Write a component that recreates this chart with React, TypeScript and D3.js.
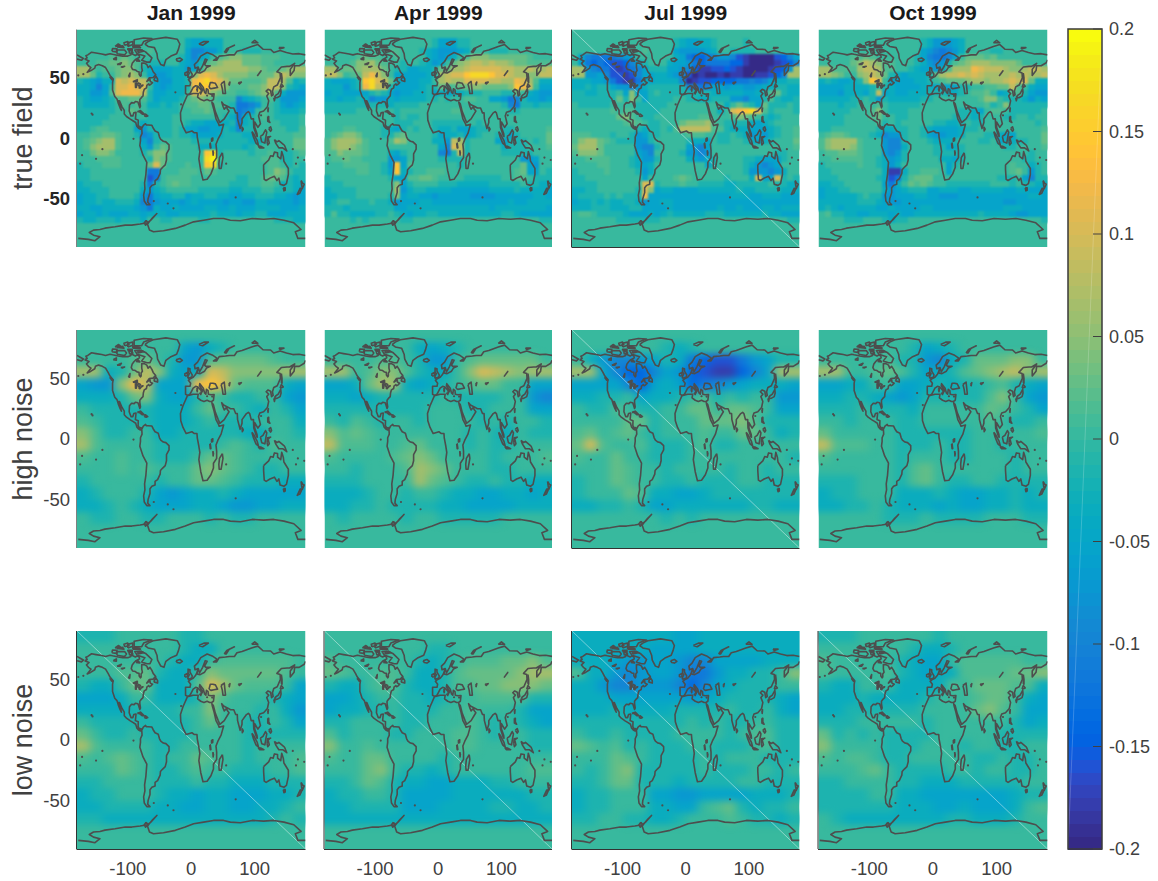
import React from 'react'
import * as d3 from 'd3'

const months = ['Jan 1999', 'Apr 1999', 'Jul 1999', 'Oct 1999']
const rowNames = ['true field', 'high noise', 'low noise']
const xTicks = [-100, 0, 100]
const yTicks = [50, 0, -50]
const barTicks = [0.2, 0.15, 0.1, 0.05, 0, -0.05, -0.1, -0.15, -0.2]

// one letter per cell, k is zero
const levels = 'abcdefghijklmnopqrstu'
const levelValues = [-0.2, -0.18, -0.16, -0.14, -0.115, -0.095, -0.075, -0.052, -0.035, -0.018, 0, 0.015, 0.03, 0.047, 0.065, 0.082, 0.1, 0.12, 0.14, 0.165, 0.19]

// matlab parula, 64 levels
const parula = [
  [0.2081, 0.1663, 0.5292], [0.2116, 0.1898, 0.5777], [0.2123, 0.2138, 0.627], [0.2081, 0.2386, 0.6771],
  [0.1959, 0.2645, 0.7279], [0.1707, 0.2919, 0.7792], [0.1253, 0.3242, 0.8303], [0.0591, 0.3598, 0.8683],
  [0.0117, 0.3875, 0.882], [0.006, 0.4086, 0.8828], [0.0165, 0.4266, 0.8786], [0.0329, 0.443, 0.872],
  [0.0498, 0.4586, 0.8641], [0.0629, 0.4737, 0.8554], [0.0723, 0.4887, 0.8467], [0.0779, 0.504, 0.8384],
  [0.0793, 0.52, 0.8312], [0.0749, 0.5375, 0.8263], [0.0641, 0.557, 0.824], [0.0488, 0.5772, 0.8228],
  [0.0343, 0.5966, 0.8199], [0.0265, 0.6137, 0.8135], [0.0239, 0.6287, 0.8038], [0.0231, 0.6418, 0.7913],
  [0.0228, 0.6535, 0.7768], [0.0267, 0.6642, 0.7607], [0.0384, 0.6743, 0.7436], [0.059, 0.6838, 0.7254],
  [0.0843, 0.6928, 0.7062], [0.1133, 0.7015, 0.6859], [0.1453, 0.7098, 0.6646], [0.1801, 0.7177, 0.6424],
  [0.2178, 0.725, 0.6193], [0.2586, 0.7317, 0.5954], [0.3022, 0.7376, 0.5712], [0.3482, 0.7424, 0.5473],
  [0.3953, 0.7459, 0.5244], [0.442, 0.7481, 0.5033], [0.4871, 0.7491, 0.484], [0.53, 0.7491, 0.4661],
  [0.5709, 0.7485, 0.4494], [0.6099, 0.7473, 0.4337], [0.6473, 0.7456, 0.4188], [0.6834, 0.7435, 0.4044],
  [0.7184, 0.7411, 0.3905], [0.7525, 0.7384, 0.3768], [0.7858, 0.7356, 0.3633], [0.8185, 0.7327, 0.3498],
  [0.8507, 0.7299, 0.336], [0.8824, 0.7274, 0.3217], [0.9139, 0.7258, 0.3063], [0.945, 0.7261, 0.2886],
  [0.9739, 0.7314, 0.2666], [0.9938, 0.7455, 0.2403], [0.999, 0.7653, 0.2164], [0.9955, 0.7861, 0.1967],
  [0.988, 0.8066, 0.1794], [0.9789, 0.8271, 0.1633], [0.9697, 0.8481, 0.1475], [0.9626, 0.8705, 0.1309],
  [0.9589, 0.8949, 0.1132], [0.9598, 0.9218, 0.0948], [0.9661, 0.9514, 0.0755], [0.9763, 0.9831, 0.0538],
].map(c => d3.rgb(c[0] * 255, c[1] * 255, c[2] * 255).formatHex())

// true field rows: lat 80 downward in 5 degree rows, 36 columns of 10 degrees from lon -180
const janTrue = [
  'kkkkkk kkkkkk kkkkki hhiiik kkkkkk kkkkkk',
  'kkkkkk kkkkkl kkkkkh ffggik kkjjjk kkkkkk',
  'kkkkkl lmlkkk kkkkjh fhiklm nnmmml llkkkk',
  'kkkllm mnmlkj jjkkih gjlmno oommml lkkkkk',
  'oolkll mnnlji hhhiig hknooo ooonnm llmnoo',
  'oomjkk mnonkh gghiij nqrqon nnnmmm moponn',
  'jihgii qpqppl hggiij rstrqo mmlllm ppolij',
  'iihfhk qqrqqk hghiij rtsqpn lllmmn ppnjih',
  'iigghl qrrrpj hhiiik qqpnml lkklmn oliggg',
  'jihhij llmmlj hiiijl mnmlkk kfhijk ljgggh',
  'jiiiij klklki ijijkl lmmllk jeefgk kjhghi',
  'jjjjjj kkmlkj jjjjkk llmlkk jefgkl kjiiij',
  'jjjjjk kkkkkj jjjkkk kkkkkj ieijkl kjjjjk',
  'jjjjkk kkkjij jjjkkj iihhii jeijkk kkjjjk',
  'jjkllk kkkhgj jjjkjh hgghhj ifjjkk kkkjjl',
  'kkllmm lkkjfg jjjkjj hhhhij jjiikk kkkkll',
  'klmnoo lkkkhf jkkkkk jjjjjj jjjiij kkkkmm',
  'klnooo lkkkig kmlkkk kiiijj jjijkk kkkkmm',
  'kkmnnm kkkkjl nnlkkk kkstjk kkkjkk lkjjkl',
  'kkklll lkkkkj nmlkkk kktukk kkkkkl lljjkk',
  'jkkkll lkkkkm qmkkkl kkstjk kkkkkk llkjkj',
  'jjkkkk kkkkke ekkkll lkmlkk kkkkkk lnmkjj',
  'jjkkkk kkkkkc ekllll kkkkkk kjjkkl mmljij',
  'ijjjkk kkkkje jklmll kkkkkk jjjkkl lkijii',
  'iijjjk kkkkig ijkkkk kjjjjj iijjjk kjjjih',
  'hiijjk kkkjge hiijjh iijjii hhiijj jiihgh',
  'hiijii jjjife ghhhgh ihhhhg hhggii hhhhgh',
  'iihhii iiihge ihhihh hhiihh ihhhii iihhhi',
  'hiihih hhiihi iihhii iiijii ihiijj hhhiii',
  'jiijjj ijjjik kjjkkk kjjkkk kkkkkk kjjjii',
]
const aprTrue = [
  'kkkkkk kkkkkk kkkkkj hhhjjk kkkkkk kkkkkk',
  'kkkkkk kkkkll kkkjih ggghik kkjjjk kkkkkk',
  'kkkkkl mllkkl kkkkih ghikln nnmmmm mmlkkk',
  'kkkkln nomlkk jkkjig hkmnop popoon mmllll',
  'oolmmn ooomkj jhhiij mmoopq qqqqpp oopoop',
  'ppnklm prpnkh hhhhij opqqst ttsqqp oonnpp',
  'ihhhij stqpmi hhhiik opooqq qqppoo rqolii',
  'iiigij rtppjh hhhijj mklmmn nmmmmn srpkhh',
  'hiihhh hjkjhg hhiijh ihiijj jkkkjj mkihgg',
  'iihiij ifggih iiiijj kjkkll kkhhge fjhhgh',
  'jjjjjj jjjjij jjjkkk kkkkkk kkkkjf ejjijj',
  'jjjjjk kkkkkj kkkkkk kkllkk kkkkkj jkkkkk',
  'kkkkkk kkkkkj kjjkkk kkkkkk kkkkkk kkkkkk',
  'kkkkkk kkkkkj jjkkkj jjjjkk jkkkkk kkkkkk',
  'kkkllk kkkjih jkjkkj iijhhi jjkkjj kkkkkl',
  'klmnnm kkkjjl mkkkkj hiijhi jkkjjh jkkkkm',
  'lnooon lkkklo nkkkki igpojk kkkhhj jjkjkm',
  'lnoonm lkkkkk kkkkkk hfqpjk kkkkij jjkkkl',
  'llnmmm lkkkih jkkkkk fejpjk kkkkjj jjjkkk',
  'kllmll kkkkgg hkkkkk jjjjkk kkkkkk kgghkk',
  'kkklll lkkjgs hlkkkk kkkjkk kkkkkk kmhgkk',
  'kkkkkl lkkjhs ijkkll lkkkkk kkkkkk lmhhkj',
  'jkkkkk kkkkjh hllmml kkkkjj jjjjkk llkjjj',
  'jjjkkk kkkkkn hjkkkk jjjiii iijjjj jkjjii',
  'ijjjjk kkkkko gijjii iihhhh hhiiii jiiiih',
  'iijjjk kkkkjn hiihhg hhhhhg ggghhh hhhiih',
  'ijkkjj jkjjig hhhiih hhhhhh hhhhhi hhiiii',
  'jjjijj jjjjjh hiiiii iiiiii iihiii iiiiih',
  'jljjii iijjkj ihiijj iiiiii iiiijj ihhhhh',
  'kkkkjk jkkkkk jjkkkk kkkkkk kkkkkk kkkkjj',
]
const julTrue = [
  'kkkkkk kkkkkk kkkkji hhiijk kkkjkk kkkkkk',
  'kkkkkk kkkkkl kkkkhg ggghik kjjjjk kkkkkk',
  'khfeee efghkk kkkkih eddefg gfcbaa aacdfh',
  'kheded ccdfhj kkkihh gedeee eddbaa aabcdf',
  'oogfee cbcefh jjjhhg fdbbcc dcbaaa abcdgo',
  'oogghf ccbcfh hiihgf cabaab abbaab bcdfoo',
  'iiihhg ecbbei hiiiif abccdd ddeefe fhiijj',
  'iijijj hggfgi jjjjjj ffefhh ghhggh iijjii',
  'jjiijj jkhnhh jkjjjj jjjjii iiihhi jlmjii',
  'jjjjjj jmjnkh jjjjkk jjiijj jggfhh jljiij',
  'kjjjjj kkkkjj jjjkkk kkkkkk ikmkjh mjjjkj',
  'kkkkkk lklljj jjkkkk kkkkki kqrstq ljkkkj',
  'kkkkkk kmnlkj jkkkkk kkllkk klnmlk jijkkk',
  'kkkkkk kklmlk jjkkkm nnnolk jjjjih ijkkkk',
  'kkkkkk kkkkji jjkjlp ppppll jiiihh hijkkl',
  'lllkkk jkkjgh jjkkkk lllkkj jkjigh gijkkl',
  'lnooml kjjjgg jkkkkk jiihkj jkkjih ijkkkm',
  'mooomk kkkkgf fjkkkk hgfhkk kkkkkk kkkkkl',
  'lnnnmk kkkkhg fkkkkj ggfgkk kkkkkk kkjjkk',
  'kkllll kkkjig gjkkkk ihgijk kkkjji hhhjkk',
  'kkkkll kkkjih ikkkkk kkkhjk kkkjig fghkkk',
  'jkkkkl kkkkjg ikkkkk kkkkkk kkkjgg gfgikk',
  'jjkkkk kkkkkh kkkklm lkkkkk jkkkiq hhqjkj',
  'jjjjkk kkkkkq qjkkkl kkjjjj iijjjj jkjjii',
  'iijjkk kkkkjq nhiihh hhiiii iijiij jjjiii',
  'ijjjjk jkjjjr hhhhhh hhhhhh hiiihh iiihhh',
  'hiijij iijjig hhiihh hhhhhh hhhhhh hhhhhh',
  'iiijjj iiijjh hhhihh hhhhhi hhihhh iihiii',
  'kllkjj jjihhh ihijii iiijjj iiiiii jiihhh',
  'kkkkkk kjjjjj jjkkkk kkkkkk kkkkkk kkkkjj',
]
const octTrue = [
  'kkkkkk kkkkkk kkkkji ggghik kkkkkk kkkkkk',
  'kkkkkk kkkkkk kkkkhg fefgik kkkjjk kkkkkk',
  'kkkkkl lmlkkk kkkjhf eefhkm mmlmkk kkkkkk',
  'kkkkkm nponll kkkjig fgjlmn ooonnn nmkkkk',
  'oollll oppoll kkjihh gilooo rqpppo nnoppo',
  'oonmkk nopomj ihiiij moppqp qpoooo popoop',
  'ijihhi jnsqkh hhhiij klmmmn oonoop qpqmii',
  'hhhhii iijkji hhhhii hhhhjj kkllmm plkihh',
  'hhhgii ihjphi hhiiij jjiijk llmkhi lljhgg',
  'iiiiij jkjgji iiiijj kkkkkk klnnkj jjigih',
  'jjjijj kkklkj jjjjkk kkkkkk kkljkn jjjjjj',
  'jjjjjk kklnkj jjkkkk kkkkjj ihkllk jjjjjk',
  'jjjjkk kklmkk jjkkkk kkkjjj ijkkkj jkkjkk',
  'jjjjkk kkkljk jkkkkk jjiijk jjkkkk kkkkjk',
  'jjkkkk kkkjii jjkkji hhhhij jkkkkk kkkkkl',
  'klmmlk kkjifg gjkkjh gghhik kkjjih hkkkkm',
  'lnoooo lkkkgf fjkkkj iiijkk kjjkhi ijjkkm',
  'lnooon lkkkgf fikkkk jjhijk kkkkkj jkkkkl',
  'kllmmm lkkkgf gjkkkk jjjjjk kkkkkk kkkjkk',
  'kkllll lkkjig hjkkkk kiihjk kkkkkk kkjjkk',
  'jkkkkk lkkjig ikkkkk kkhjkk kkkkkk lkkijk',
  'jjkkkk kkkkib bikkll lkhkkk kkkkkk lmkgjk',
  'jjjkkk kkkjic ejlmmm kkkkkk kkkkjj jkhfjj',
  'iijjkk kkkkhe ikmlml kkjjjj jjjkkk jkjjii',
  'hiijjk kkkkig hijjjh hiiihh iiiiih hiihhh',
  'hiiiii jkjjgg hhhiih hggghh hhhhhh hhhiih',
  'iiiiii jjjihg ghhhhh hhhhhh hhhhhg ghhhhh',
  'ijihii iiihhi hhhhii hhhhhh hhhhhi iihhhh',
  'kljjii hhiiih ihhiii iiiiii ijiiii hgghhh',
  'kkkkjj jkkkji jjkkkk kkkkkk kkkkkk kkkkkj',
]

// smooth rows: lat 90 downward in 10 degree rows, 18 columns of 20 degrees from lon -180
const janHigh = [
  'kkkkkk kkkkkk kkkkkk', 'kkkkkk kkhgij kkkkkk', 'kkkklm kjgglm mmmlkk', 'ooijmp nihiqp nnnnoo',
  'hggnrp hhhrsq mlllih', 'iiijmn ihhjlk jjkkhg', 'kjjjjj iiikmk kjikjh', 'lkjjjj iiijkj jjkkki',
  'nljjkk iijjjj jiikkj', 'olkkkk jjjjjk lkjlkk', 'lkklkk jjjkmm lkkkkk', 'kkklkl kkkmnm lkjjkk',
  'jkkkkk jkkmml kjjjii', 'ijkkkj hghiij ihhhhh', 'iijkji hhhiih gghhii', 'kjjkkj jkkkjk jjkkkk',
]
const aprHigh = [
  'kkkkkk kkkkkk kkkkkk', 'kkkkkk kihijk kkkkkk', 'kkkkll kjggkl mmmmmk', 'ooklnn ljiikn qponoo',
  'hhimoo ihijkl mmkkhh', 'iihijj jjjkjj jjkkgf', 'jjjjjj jjkkkj jkkkhh', 'kjlkjk kjkkkk jkjkkj',
  'nlmlkk kkkkkj kjikjj', 'plllkk lmkkkj kjjkkk', 'lkkkkl mnmkkk kjkkkl', 'kkjkkk lonmkk kjjkkk',
  'jjjkkk komlkj jkjjii', 'iiijkk jkkjii hhiihi', 'iijjkj jjjiih hhhiii', 'kjkkkk jkkjjj jjkkkk',
]
const julHigh = [
  'kkkkkk kkkkkk kkkkkk', 'kkkkkk kjijkk kkkkkk', 'kigffg hjiedc ceghjj', 'oohfdd fhgdcb bdfhoo',
  'hhhhfd hihdef ghiiih', 'iijjkh iijklj kjkkgg', 'kjjlkj jkkmmk mmlkhh', 'kkkkmm jkkkmm mnljjj',
  'lmklmk jkkklk kmmkij', 'mqlkkl jjjklj jkkkkk', 'lkkmkk jjjkkk kkkkkj', 'kkkmlk kjkkkk jkkjkk',
  'jkkmlk kjjkjj jkkjjj', 'jkkkml iihhij jjjjjj', 'iijjkj hhiiii iijjii', 'kkkkkk kjkjkk kkkkkk',
]
const octHigh = [
  'kkkkkk kkkkkk kkkkkk', 'kkkkkk kjhijk kkkkkk', 'kkkkkl jjgfij mmmnnk', 'ookklm ljhijl mnopno',
  'hhiikk hhijij jkljih', 'iijjih ghjjjj jlnkhg', 'jjjkjj jikkkk kmlkjh', 'kkjkkk jjkkkk klkjjk',
  'mkkkkk jjjjjj kkkkkl', 'plllkk jjjkjj kkjkkk', 'lkkkkk jkkkjj kkkjkk', 'kkkkkk jlmkkk kkkjkk',
  'jjjkkk jlmkjj kkjjjj', 'ijjkkk iiijih hiijij', 'iijjkj iiihih hiijii', 'kkkkkj jjkjjj jkkkjj',
]
const janLow = [
  'jjjkkk kkjjkk kkkkkk', 'kkkkkk kkjiik kkkkkk', 'kkkkkk kjiikl lllllk', 'kkkllm jiiknm mmmmlk',
  'jiikmm iiilqo mlllkh', 'hhhikk iiijnl kkkjih', 'iiiijj jjkknk kkjkig', 'kjjjjj jjjkmk kjjkjh',
  'mkjjkj jjjkkk kjjjjj', 'olkkkk jjkkkk kjkkkk', 'lklmlk jkkmlk kjkkkl', 'kkkmlk jjklkk jjjkkl',
  'jjkkkk jjjkjj iiijjj', 'ijjkkk jiihii hhhiij', 'iijjjj iihhii hhiijk', 'jjiiii iiiiii iiijkj',
]
const aprLow = [
  'kkkkkk kkkkkk kkkkkk', 'kkkkkk kkjjkk kkkkkk', 'lkkkkk kjijkl llmmnl', 'mlkkll kiijlm mmmnoo',
  'jiikll jiijll mmnnnm', 'hhijkk jjijkk lllljj', 'hiijjk jjjkkl kkkjhh', 'jjkkkk jjkkkl kjkjih',
  'ljkkkj jkkkll kjkkjj', 'nkklkk kkkkll kkkkjj', 'lkkmmk kkkjkk kkkkkk', 'kkkmnk jjijkk kkkkll',
  'jjkmlj iihhii ijjkkk', 'ijjkkj hhhhii iiiijj', 'iijjjj hhhiii ijjiij', 'iiiiii iiiiii iiiiii',
]
const julLow = [
  'iiiiii iihhii iiiiii', 'iiiiii hhhhii iiiiii', 'iiihgg hhgffh hhhiii', 'liigfg hhgeeg iijjkn',
  'iigffg ggfdfh ijjjkk', 'iiihhh hhhghi jjjjih', 'iiijii iijjjj kjjkih', 'jjjjjj jjjkjk jjkkjj',
  'kjjkjj jjkkkk jklljj', 'mlkljk jjjkkj jjkljj', 'kkkmlk jjjjkj kkkjjj', 'kjkmnj jjjjkj jjkkjk',
  'jjkmmj jjijjj jkkjjj', 'ijjkkk hhgghh hhiiij', 'ijjkkk iihhkl mjijjk', 'jjkkjj iijkkk lkjjij',
]
const octLow = [
  'jjjkkk kkkjkk kkkkkk', 'kkkkkk kjiijk kkkkkk', 'lkkkkk jihhkl llllkk', 'lkkkkl jihiil lllmmn',
  'jiikkk iiiilk mmmlli', 'iiijii iijkkk lmmkih', 'iijjjj jjkkkk mnlkhh', 'jjjkkk kkjkkk kkkjhi',
  'mjkjkj jjjkkk kkjjjj', 'nkkkkj jjkkkj kkjjkk', 'lkllkj jkkkkk jjkjjk', 'kkklmk jjjjkk jkkjjk',
  'jjkkkk jjiiij jjjjkk', 'jjjjkk iihhhh hhhijj', 'jjjjjj iiihhi hhhikl', 'kjiiii iiiijj iiijkk',
]

const trueRow = [janTrue, aprTrue, julTrue, octTrue]
const highRow = [janHigh, aprHigh, julHigh, octHigh]
const lowRow = [janLow, aprLow, julLow, octLow]

// coast outlines as [lon, lat]
const americas = [[-168,65.5],[-164,66.5],[-166,68.3],[-163,69],[-157,71.2],[-150,70.5],[-141,69.7],[-135,69],[-128,70],[-124,69.5],[-115,68.5],[-108,68],[-100,68],[-95,69],[-94,71.5],[-92,69.5],[-88,68.5],[-85,69.5],[-82,68.5],[-81.5,67],[-87,65.5],[-90,64],[-93,62],[-94.5,59],[-92.5,57],[-88,56.5],[-85,55.3],[-82.3,55],[-82,52.8],[-80,51.3],[-79,52],[-79,54.5],[-77,56],[-78,58.5],[-78,62.3],[-74,62.2],[-70,61],[-68,58.5],[-65,60],[-62,57.5],[-60,55],[-56,52.5],[-60,50.3],[-66,50],[-70,47],[-65,49],[-64.5,47],[-61,46],[-64,44.5],[-66,44],[-67,45],[-70,43.7],[-70.5,41.7],[-74,40.6],[-75.5,38],[-76,35],[-78,34],[-81,32],[-81,30],[-80,26.5],[-81,25.2],[-82.7,28],[-84,30],[-88,30.4],[-90,29.2],[-94,29.5],[-97.3,27.5],[-97.8,22.5],[-95,18.5],[-92,18.5],[-90.5,21],[-87,21.5],[-88,16],[-83.5,15],[-83.7,11],[-81,8.8],[-79.5,9.5],[-77.5,8.5],[-75.5,10.7],[-72,12],[-71,11],[-68,11],[-62,10.7],[-60,8.5],[-57,6],[-52,4.8],[-50,1],[-48,-1],[-44,-2.5],[-40,-3],[-35,-5.5],[-35,-9],[-39,-13],[-39,-18],[-41,-22],[-45,-24],[-48.5,-26],[-49,-29],[-53,-33.5],[-57,-35],[-57,-38],[-62,-39],[-65,-41],[-65,-45],[-68,-50],[-68.5,-53],[-65,-55],[-70,-55],[-74,-52],[-75,-47],[-73,-42],[-73.5,-37],[-71.5,-30],[-70,-20],[-76,-14],[-81,-6],[-80,-2],[-80,1],[-77.5,4],[-78,8],[-80,7.5],[-83,8.3],[-85.8,10],[-87.5,13],[-92,14.5],[-96,15.8],[-102,18],[-105.5,20],[-105.5,23],[-109,26],[-113,31],[-114.5,31],[-112,27],[-110,23],[-112,25],[-115,29],[-117,32.5],[-120.5,34.5],[-124,40],[-124,46],[-123,49],[-128,52],[-131,55],[-135,58.5],[-140,60],[-146,61],[-151,60],[-152,58],[-158,56],[-164,54.5],[-158,58.5],[-162,60],[-165,62],[-161,64],[-168,65.5]]
const eurasiaAfrica = [[180,69],[170,70],[160,69.7],[150,71],[140,72.7],[130,71],[125,73.5],[113,73.7],[105,77.5],[95,76],[80,73],[72,72],[68,69],[60,69],[54,68.5],[44,68],[40,64.5],[35,64.5],[41,66.5],[33,69.4],[25,71],[15,68],[10,63.5],[5,61],[6,58],[11,59],[13,55.5],[18,60],[22,65.5],[25,65],[21,61],[23,60],[30,60],[24,58.5],[21,56],[14,54],[9,54.5],[10,57.5],[8.5,55],[7,53.5],[3,51],[-1,50],[-4.5,48.5],[-1,46],[-2,43.5],[-9,43.5],[-9,37],[-5.5,36],[-2,37],[0,39],[3,42],[7,43.5],[10.5,43],[15.5,40],[16,38],[18,40],[13,44],[13.5,45.7],[19,42],[21,38],[23,37],[24,41],[26.5,40],[27,37],[31,36.5],[36,36.7],[35,32],[32.5,31.2],[29,31],[25,32],[20,31],[15,32],[10,34],[11,37],[3,37],[-6,35.8],[-10,31],[-13,27.5],[-17,21],[-16.5,15],[-13,9.5],[-8,4.5],[-4,5.2],[1,6],[5,4.5],[9,4.5],[9.5,1],[12,-6],[13.5,-11],[12,-17],[15,-27],[18.5,-34.5],[25,-34],[31,-29.5],[35,-24],[35,-20],[40,-16],[40,-10],[39,-5],[42,-1],[47,4],[51,11.5],[44,10.5],[43,12],[39,16],[35.5,24],[33,28.5],[32.5,30],[34.8,28.5],[38,22],[42.5,16],[45,13],[52,16],[59.5,22.5],[56.5,24.5],[56,26.5],[52,24],[50,26.5],[48,30],[51,28],[57,26.5],[62,25],[67,25],[70,21],[72.5,21],[73,16],[77,8],[80,13],[80,16],[87,21],[90,22],[92,21],[94.5,16],[98,16],[98.5,9],[103,2],[104,1.5],[103.5,4],[100,9],[100,13.5],[105,9],[109,12],[106,18.5],[108,21.5],[114,22.5],[120,26],[122,31],[119,35],[122,37],[118,39],[121,40.5],[125,39.5],[126.5,35],[129,36],[128,39],[130,42.5],[135.5,44],[140.5,50],[140,54],[135,55],[142,59],[151,59.5],[155,59.5],[163,62],[156,57],[156,52],[162,56],[163,60],[170,60],[178,62.5],[180,65]]
const chukotka = [[-180,69],[-175,67.5],[-170,66],[-173,64.5],[-180,65.5]]
const greenland = [[-73,78],[-68,80],[-60,82],[-40,83.5],[-22,82],[-18,78],[-20,74],[-23,70],[-32,68],[-40,65],[-43,60],[-48,61],[-53,66],[-54,70],[-58,75],[-68,76],[-73,78]]
const antarctica = [[-178,-82.9],[-162,-83.7],[-151.7,-84.8],[-143.8,-81.5],[-154,-80.2],[-160.6,-78],[-154,-76],[-143.8,-75.5],[-136,-74.4],[-120,-73.3],[-104,-71.9],[-93.7,-71.9],[-80.6,-71],[-69,-70],[-63.7,-67.8],[-54.2,-62.3],[-60.6,-65.6],[-69,-71],[-65.8,-76],[-59.5,-77.4],[-43.7,-76.6],[-25,-74.6],[-9.5,-71.9],[3.7,-69.2],[19.5,-67.8],[35,-66.4],[51,-66.4],[61.6,-67.8],[77.4,-68.3],[96,-66.4],[114,-67],[130,-66.4],[146,-67.8],[161.6,-70],[173,-75.5],[164,-77.4],[168,-82.9],[180,-82.9]]
const australia = [[114,-22],[114,-26],[115,-34],[118,-35],[124,-33],[131,-31.5],[135,-35],[138,-33],[140,-38],[146,-39],[150,-37.5],[153,-30],[153,-25],[146,-19],[145,-15],[142.5,-11],[141,-17],[136,-15],[136,-12],[131,-11.5],[129,-15],[125,-14.5],[122,-18],[114,-22]]
const islands = [
  [[-80,73.5],[-72,71.5],[-67,69],[-62,66.5],[-65,63],[-70,63],[-78,64.5],[-73,68],[-85,70],[-89,73],[-80,73.5]],
  [[-90,77],[-78,77],[-75,80],[-62,82.5],[-75,83],[-90,81.5],[-90,77]],
  [[-117,70],[-105,69],[-102,71],[-105,73],[-117,73],[-117,70]],
  [[-125,72],[-118,71.5],[-117,74],[-124,74.3],[-125,72]],
  [[-92,75],[-80,75],[-82,76],[-92,76.5],[-92,75]],
  [[-117,75.5],[-106,75],[-108,76.5],[-117,76],[-117,75.5]],
  [[-100,73],[-93,72.5],[-93,74],[-100,74],[-100,73]],
  [[-100,76],[-92,77.5],[-92,80],[-100,79],[-100,76]],
  [[-105,77],[-98,78],[-100,80],[-106,79],[-105,77]],
  [[-120,76],[-112,77],[-115,78],[-120,76]],
  [[-97,70],[-92,71],[-95,73],[-98,72],[-97,70]],
  [[-84,71],[-75,72],[-78,73],[-84,72.5],[-84,71]],
  [[-87,64],[-81,63.7],[-84,65.5],[-87,64]],
  [[-59,48],[-53,47],[-53,49],[-56,51.5],[-59,48]],
  [[-85,22],[-80,23],[-74,20],[-77,20],[-82,22],[-85,22]],
  [[-74,18.5],[-72,20],[-68.5,18.5],[-71,18],[-74,18.5]],
  [[-125.5,50],[-123.5,48.5],[-125,48.5],[-128,50.5],[-125.5,50]],
  [[145,-41],[148,-41],[148,-43],[146,-43.5],[145,-41]],
  [[173,-35],[176,-37.5],[178,-38],[175,-41.5],[174,-39],[173,-35]],
  [[172,-41],[174,-42],[171,-45.5],[167,-46.5],[172,-41]],
  [[49,-12],[50,-16],[47,-25],[44,-25],[43.5,-21],[44.5,-16],[49,-12]],
  [[131,34],[135,33.5],[140,35],[141.5,38],[141,41],[140,40],[137,37],[133,35.5],[131,34]],
  [[140,42],[142,45],[145,43],[141,42],[140,42]],
  [[130,33.5],[132,33],[131,31],[130,33.5]],
  [[142,54],[143,50],[143,46],[142,47],[142,54]],
  [[120.5,18],[122,18],[122,15],[124,13],[120.5,14],[120.5,18]],
  [[122,8],[125,9.5],[126.5,7],[125,5.7],[122,8]],
  [[109,1.5],[113,3],[117,7],[119,5],[117.5,1],[116,-4],[111,-3],[109,1.5]],
  [[95.5,5.5],[98,4],[104,-2],[106,-6],[102,-4],[98,1],[95.5,5.5]],
  [[105.5,-6.5],[110,-6.7],[114.5,-8],[108,-8],[105.5,-6.5]],
  [[119.5,-3],[120,1],[125,1.5],[121,0],[123,-4],[120.5,-5.5],[119.5,-3]],
  [[131,-1],[135,-3],[138,-2],[145,-5],[147,-6],[150.5,-10.5],[144,-8],[138,-8],[133,-4],[131,-1]],
  [[-5.5,50],[1,51.2],[1.5,53],[-2,56],[-2,58],[-5,58.5],[-5,55],[-3,54],[-5,52],[-5.5,50]],
  [[-10,52],[-6,52.2],[-6,55],[-10,54],[-10,52]],
  [[-24,65.5],[-18,66.5],[-14,65],[-18,63.5],[-22,64],[-24,65.5]],
  [[12,78],[20,80],[27,80],[18,77],[12,78]],
  [[52,71],[56,74],[68,77],[60,75],[55,71],[52,71]],
  [[95,79],[105,79],[100,81],[95,79]],
  [[138,75],[146,75],[140,74],[138,75]],
  [[80,9.5],[82,7.5],[80.5,6],[80,9.5]],
  [[120.5,24],[121.5,25],[121,22],[120.5,24]],
  [[8.5,41],[10,42.5],[9.5,39],[8.5,41]],
  [[13,38],[15.5,38],[15,36.7],[13,38]],
  [[-71,-68],[-68,-70],[-72,-72],[-74,-70],[-71,-68]],
]
const lakes = [
  [[47,45],[52,47],[53,42],[54,37],[50,37],[49,41],[47,45]],
  [[59,45],[61,46.5],[60,44],[59,45]],
  [[28,42],[30,46],[34,46],[38,45.5],[41.5,42],[36,41.5],[31,41],[28,42]],
  [[74,46],[79,46.5],[76,45],[74,46]],
  [[104,51.5],[110,55.8],[109,55],[104,51.5]],
  [[32,0],[34,0.2],[33.8,-2],[32,-2.5],[32,0]],
  [[29.2,-4],[30,-4],[31,-8],[30,-8],[29.2,-4]],
  [[34,-10],[35,-12],[34.5,-14],[34,-10]],
  [[-92,46.8],[-85,48.5],[-85,46.7],[-92,46.8]],
  [[-88,46],[-85.5,45.5],[-86.5,42],[-87.8,42],[-88,46]],
  [[-84,46],[-80,45],[-82,43],[-84,44],[-84,46]],
  [[-83,42],[-79,42.7],[-81,41.5],[-83,42]],
  [[-80,43.5],[-76,44],[-77,43.3],[-80,43.5]],
  [[-123,65.5],[-118,67],[-118,65],[-123,65.5]],
  [[-117,61],[-110,62.5],[-112,61],[-117,61]],
  [[-111,59],[-105,59.5],[-108,58.7],[-111,59]],
  [[-99,51],[-96.5,54],[-97,51],[-99,51]],
]
const islandDots = [[-157,20.5],[-155.5,19.5],[-91,-0.5],[-59,-52],[-37,-54],[70,-49],[165,-21],[178,-18],[-150,-17],[-175,-21],[-172,-14],[-178,52],[-170,53],[-140,-9],[110,19],[55,-21],[-25,38],[-16,28],[33,35],[25,35.3],[168,-16],[160,-9],[-28,-58]]

const panelX = [[77, 305.5], [324.5, 552], [572, 799.5], [818.5, 1047.5]]
const panelY = [[29.5, 247], [330, 548], [631, 849]]
const barBox = { left: 1068, right: 1102, top: 29, bottom: 849 }
const textColor = '#404040'
const coastColor = '#4d4d4d'

const color = d3.scaleQuantize<string>().domain([-0.2, 0.2]).range(parula)
const levelColor = (ch: string) => color(levelValues[levels.indexOf(ch)] + 1e-6)

function HeatCells({ rows, lat0, dLat, dLon, x, y, spread }: any) {
  const cells: any[] = []
  rows.forEach((r: string, i: number) => {
    r.replace(/ /g, '').split('').forEach((ch, j) => {
      if (ch === 'k') return
      const lon = -180 + j * dLon
      const lat = lat0 - i * dLat
      let x0 = x(lon), x1 = x(lon + dLon), y0 = y(lat), y1 = y(lat - dLat)
      if (j === 0) x0 -= spread
      if (lon + dLon >= 180) x1 += spread
      if (i === 0) y0 -= spread
      cells.push(<rect key={i + '-' + j} x={x0} y={y0} width={x1 - x0} height={y1 - y0} fill={levelColor(ch)} shapeRendering="crispEdges" />)
    })
  })
  return <>{cells}</>
}

function Panel({ row, col, rows, smooth, diagonal, leftLine, bottomLine }: any) {
  const [xa, xb] = panelX[col]
  const [ya, yb] = panelY[row]
  const x = d3.scaleLinear().domain([-180, 180]).range([xa, xb])
  const y = d3.scaleLinear().domain([90, -90]).range([ya, yb])
  const line = d3.line<number[]>().x(d => x(d[0])).y(d => y(d[1]))
  const clipId = `clip-${row}-${col}`
  const coasts = [americas, eurasiaAfrica, chukotka, greenland, antarctica, australia, ...islands, ...lakes]
  return (
    <g>
      <clipPath id={clipId}><rect x={xa} y={ya} width={xb - xa} height={yb - ya} /></clipPath>
      <g clipPath={`url(#${clipId})`}>
        <rect x={xa} y={ya} width={xb - xa} height={yb - ya} fill={color(1e-6)} />
        {smooth
          ? <g filter="url(#smooth)"><HeatCells rows={rows} lat0={90} dLat={10} dLon={20} x={x} y={y} spread={30} /></g>
          : <g filter="url(#soft)"><HeatCells rows={rows} lat0={80} dLat={5} dLon={10} x={x} y={y} spread={4} /></g>}
        {diagonal && <line x1={xa} y1={ya} x2={xb} y2={yb} stroke="#fff" strokeOpacity={0.55} strokeWidth={0.8} />}
        {coasts.map((c, i) => <path key={i} d={line(c as number[][]) as string} fill="none" stroke={coastColor} strokeWidth={1.6} strokeLinejoin="round" />)}
        {islandDots.map((d, i) => <circle key={i} cx={x(d[0])} cy={y(d[1])} r={1.1} fill={coastColor} />)}
      </g>
      {leftLine && <line x1={xa - 0.5} y1={ya} x2={xa - 0.5} y2={yb} stroke={row < 2 && col === 0 ? '#808080' : '#333'} strokeWidth={1} />}
      {bottomLine && <line x1={xa - 0.5} y1={yb + 0.5} x2={xb} y2={yb + 0.5} stroke="#333" strokeWidth={1} />}
      {col === 0 && yTicks.map(t => (
        <text key={t} x={xa - 7} y={y(t)} dy="0.35em" textAnchor="end" fontSize={18.5} fontWeight={row === 0 ? 'bold' : 'normal'} fill={row === 0 ? '#262626' : textColor}>{t}</text>
      ))}
      {row === 2 && xTicks.map(t => (
        <text key={t} x={x(t)} y={yb + 20} dy="0.35em" textAnchor="middle" fontSize={18.5} fill={textColor}>{t}</text>
      ))}
    </g>
  )
}

function Colorbar() {
  const { left, right, top, bottom } = barBox
  const y = d3.scaleLinear().domain([0.2, -0.2]).range([top, bottom])
  const band = (bottom - top) / parula.length
  return (
    <g>
      {parula.map((c, i) => (
        <rect key={i} x={left} y={bottom - (i + 1) * band} width={right - left} height={band + 0.5} fill={c} shapeRendering="crispEdges" />
      ))}
      <line x1={left} y1={bottom} x2={right} y2={top} stroke="#fff" strokeOpacity={0.25} strokeWidth={0.8} />
      <rect x={left} y={top} width={right - left} height={bottom - top} fill="none" stroke="#3a3a3a" strokeWidth={1.5} />
      {barTicks.map(t => (
        <g key={t}>
          <line x1={right - 9} x2={right} y1={y(t)} y2={y(t)} stroke="#404040" />
          <text x={right + 7} y={y(t)} dy="0.35em" fontSize={18} fill={textColor}>{t}</text>
        </g>
      ))}
    </g>
  )
}

export default function App() {
  const groups = [trueRow, highRow, lowRow]
  return (
    <svg width={1158} height={881} style={{ position: 'absolute', left: 0, top: 0, fontFamily: '"Liberation Sans", Arial, sans-serif' }}>
      <defs>
        <filter id="smooth" x="-0.3" y="-0.3" width="1.6" height="1.6" colorInterpolationFilters="sRGB">
          <feGaussianBlur stdDeviation="5 3.8" />
        </filter>
        <filter id="soft" x="-0.1" y="-0.1" width="1.2" height="1.2" colorInterpolationFilters="sRGB">
          <feGaussianBlur stdDeviation="0.8" />
        </filter>
      </defs>
      <rect width={1158} height={881} fill="#fff" />
      {groups.map((g, row) => g.map((rows, col) => (
        <Panel
          key={row + '-' + col}
          row={row}
          col={col}
          rows={rows}
          smooth={row > 0}
          diagonal={row === 2 || col === 2}
          leftLine={col === 0 || col === 2 || row === 2}
          bottomLine={row === 2 || (col === 2 && row < 2)}
        />
      )))}
      {months.map((m, i) => (
        <text key={m} x={(panelX[i][0] + panelX[i][1]) / 2} y={13} dy="0.35em" textAnchor="middle" fontSize={21} fontWeight="bold" fill="#1a1a1a">{m}</text>
      ))}
      {rowNames.map((n, i) => (
        <text key={n} transform={`translate(23,${(panelY[i][0] + panelY[i][1]) / 2}) rotate(-90)`} dy="0.35em" textAnchor="middle" fontSize={27} fill={textColor}>{n}</text>
      ))}
      <Colorbar />
    </svg>
  )
}
